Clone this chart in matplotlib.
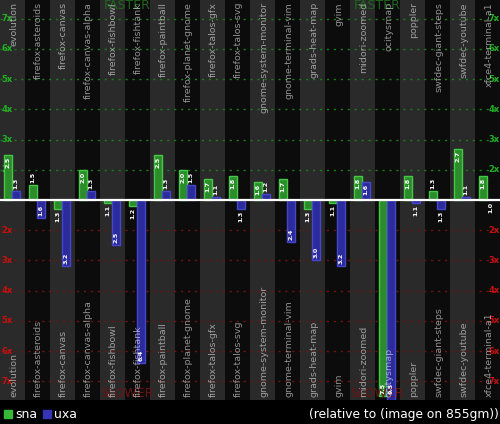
import matplotlib
matplotlib.use('Agg')
import matplotlib.pyplot as plt
from matplotlib.patches import Rectangle

# ---------------- data ----------------
benchmarks = ['evolution', 'firefox-asteroids', 'firefox-canvas', 'firefox-canvas-alpha',
              'firefox-fishbowl', 'firefox-fishtank', 'firefox-paintball',
              'firefox-planet-gnome', 'firefox-talos-gfx', 'firefox-talos-svg',
              'gnome-system-monitor', 'gnome-terminal-vim', 'grads-heat-map', 'gvim',
              'midori-zoomed', 'ocitysmap', 'poppler', 'swfdec-giant-steps',
              'swfdec-youtube', 'xfce4-terminal-a1']
# ratio relative to the image backend: positive = faster, negative = slower
sna = [2.5, 1.5, -1.3, 2.0, -1.1, -1.2, 2.5, 2.0, 1.7, 1.8,
       1.6, 1.7, -1.3, -1.1, 1.8, -7.5, 1.8, 1.3, 2.7, 1.8]
uxa = [1.3, -1.6, -3.2, 1.3, -2.5, -6.4, 1.3, 1.5, 1.1, -1.3,
       1.2, -2.4, -3.0, -3.2, 1.6, -9.5, -1.1, -1.3, 1.1, -1.0]
series_names = ['sna', 'uxa']
grid_levels = [2, 3, 4, 5, 6, 7]
grid_labels = ['2x', '3x', '4x', '5x', '6x', '7x']
footer = '(relative to (image on 855gm))'

# ---------------- style ----------------
W, H = 500, 424
CHART_H = 400
YMAX = 6.62
PX = (CHART_H / 2) / YMAX          # pixels per unit
face = {'sna': '#2c8c2c', 'uxa': '#2b2b9c'}
edge = {'sna': '#45c845', 'uxa': '#4646cc'}
legend_col = {'sna': '#38b838', 'uxa': '#3434b4'}
col_bg = ['#2a2a2a', '#0c0c0c']
green_grid, red_grid = '#1b7a1b', '#6e1212'
green_txt, red_txt = '#22b022', '#c81010'

fig = plt.figure(figsize=(W / 100, H / 100), dpi=100, facecolor='black')
ax = fig.add_axes([0, (H - CHART_H) / H, 1, CHART_H / H])
ax.set_xlim(0, len(benchmarks))
ax.set_ylim(-YMAX, YMAX)
ax.axis('off')

n = len(benchmarks)
for i in range(n):
    ax.axvspan(i, i + 1, color=col_bg[i % 2], zorder=0, lw=0)

# grid lines
for lv in grid_levels:
    ax.axhline(lv - 1, color=green_grid, lw=1, ls=(0, (1.6, 3.4)), zorder=1)
    ax.axhline(-(lv - 1), color=red_grid, lw=1, ls=(0, (1.6, 3.4)), zorder=1)

# tick labels on both sides
for lv, lab in zip(grid_levels, grid_labels):
    for xx, ha in ((0.05, 'left'), (n - 0.02, 'right')):
        ax.text(xx, lv - 1, lab, color=green_txt, fontsize=6, fontweight='bold',
                ha=ha, va='center', zorder=2)
        ax.text(xx, -(lv - 1), lab, color=red_txt, fontsize=6, fontweight='bold',
                ha=ha, va='center', zorder=2)

BW = 8 / 25
offsets = {'sna': 4 / 25, 'uxa': 12 / 25}
series = {'sna': sna, 'uxa': uxa}
for name in series_names:
    vals = series[name]
    xs = [i + offsets[name] for i in range(n)]
    hs = [(abs(v) - 1) * (1 if v > 0 else -1) for v in vals]
    ax.bar(xs, hs, width=BW, align='edge', bottom=0, color=face[name],
           edgecolor=edge[name], linewidth=1.0, zorder=3)
    for x, v, h in zip(xs, vals, hs):
        lab = f'{abs(v):.1f}'
        hpx = abs(h) * PX
        ext = min(abs(h), YMAX - 4 / PX)
        inside = hpx >= 16
        if v > 0:
            if inside:
                y, va = ext - 2 / PX, 'top'
            else:
                y, va = ext + 2 / PX, 'bottom'
        else:
            if inside:
                y, va = -ext + 2 / PX, 'bottom'
            else:
                y, va = -ext - 2 / PX, 'top'
        ax.text(x + BW / 2, y, lab, rotation=90, color='white', fontsize=4.6,
                fontweight='bold', ha='center', va=va, zorder=6)

# benchmark names, top and bottom
for i, b in enumerate(benchmarks):
    ax.text(i + 0.55, YMAX - 2 / PX, b, rotation=90, color='white', alpha=0.55,
            fontsize=6.8, ha='center', va='top', zorder=5)
    ax.text(i + 0.55, -YMAX + 3 / PX, b, rotation=90, color='white', alpha=0.55,
            fontsize=6.8, ha='center', va='bottom', zorder=5)

# FASTER / SLOWER
for xc in (n * 0.254, n * 0.754):
    ax.text(xc, YMAX + 1 / PX, 'FASTER', color='#1f651f', fontsize=9,
            ha='center', va='top', zorder=4)
    ax.text(xc, -YMAX, 'SLOWER', color='#6a1414', fontsize=9,
            ha='center', va='bottom', zorder=4)

# zero line
ax.axhline(0, color='white', lw=1.6, zorder=7)

# legend / footer strip
lax = fig.add_axes([0, 0, 1, (H - CHART_H) / H])
lax.set_xlim(0, W)
lax.set_ylim(H - CHART_H, 0)
lax.axis('off')
xpos = 4
for name in series_names:
    lax.add_patch(Rectangle((xpos, 10), 8, 8, color=legend_col[name]))
    t = lax.text(xpos + 11, 14.5, name, color='white', fontsize=9, ha='left', va='center')
    xpos += 39
lax.text(W - 1, 14.5, footer, color='white', fontsize=8.8, ha='right', va='center')

fig.savefig('out.png', dpi=100, facecolor='black')
